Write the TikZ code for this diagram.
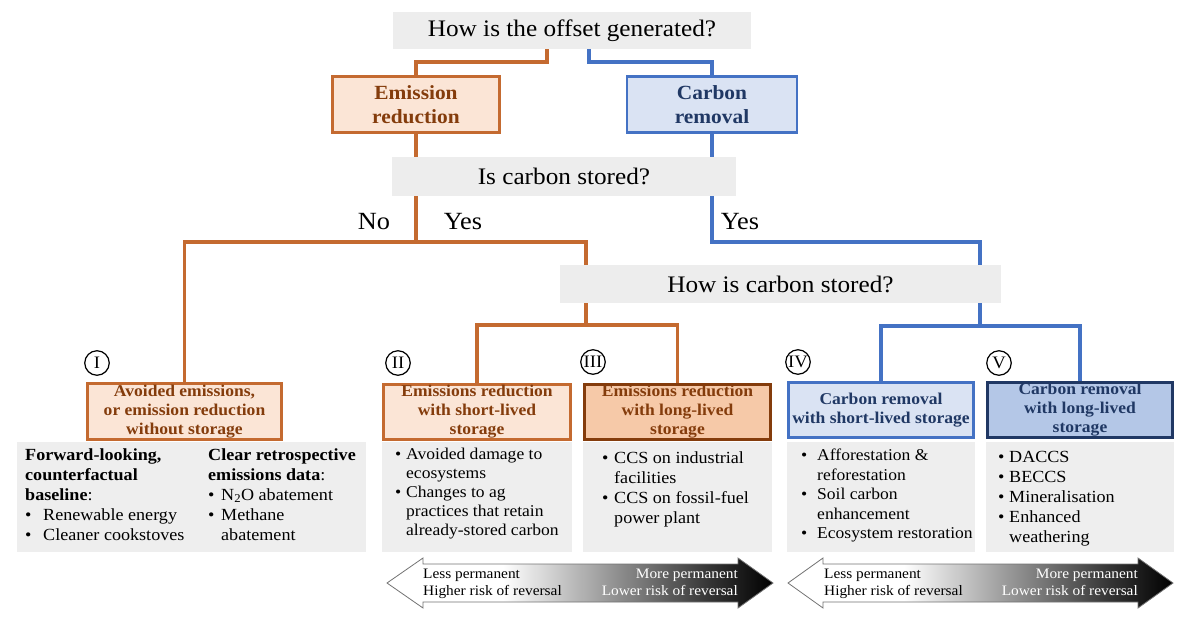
\documentclass[tikz,border=0pt]{standalone}
\usepackage{fontspec}
\setmainfont{Liberation Serif}[FakeStretch=1.065, Scale=1.03]
\usetikzlibrary{calc}
\definecolor{orl}{HTML}{C46A30}
\definecolor{orfill}{HTML}{FBE5D6}
\definecolor{orfillb}{HTML}{F6C9A8}
\definecolor{ctbrown}{HTML}{843C0C}
\definecolor{blueline}{HTML}{4472C4}
\definecolor{bluefill}{HTML}{DAE3F3}
\definecolor{bluefillb}{HTML}{B4C7E7}
\definecolor{ctnavy}{HTML}{203864}
\definecolor{qgray}{HTML}{EDEDED}
\definecolor{dgray}{HTML}{EEEEEE}
\pgfdeclarehorizontalshading{perm}{100bp}{color(0bp)=(white); color(40bp)=(white); color(67bp)=(black!80); color(75bp)=(black); color(100bp)=(black)}
\begin{document}
\begin{tikzpicture}[x=1pt,y=-1pt,
  qbox/.style={fill=qgray, inner sep=0, font=\fontsize{23}{28}\selectfont},
  hbox/.style={line width=2.8pt, inner sep=0, align=center},
  obox/.style={hbox, draw=orl, fill=orfill, text=ctbrown},
  bbox/.style={hbox, draw=blueline, fill=bluefill, text=ctnavy},
  topf/.style={font=\bfseries\fontsize{19.5}{24}\selectfont},
  lowf/.style={font=\bfseries\fontsize{16}{19}\selectfont},
  gbox/.style={fill=dgray, inner sep=0, anchor=north west},
  ol/.style={draw=orl, line width=3.2pt},
  bl/.style={draw=blueline, line width=3.2pt},
  num/.style={circle, draw=black, line width=1.2pt, minimum size=24.5pt, inner sep=0, font=\fontsize{17}{17}\selectfont},
  ans/.style={font=\fontsize{24}{28}\selectfont},
  txt/.style={inner sep=0, anchor=north west},
  atxt/.style={inner sep=0, font=\fontsize{14}{17}\selectfont},
  arrowshape/.style={shading=perm, draw=black!55, line width=0.8pt}
]
\useasboundingbox (0,0) rectangle (1200,619);

% question boxes
\node[qbox, minimum width=358pt, minimum height=37pt] (q1) at (572,30.5) {How is the offset generated?};
\node[qbox, minimum width=344pt, minimum height=39pt] (q2) at (564,176.5) {Is carbon stored?};
\node[qbox, minimum width=441pt, minimum height=38pt] (q3) at (780.5,284) {How is carbon stored?};

% top category boxes
\node[obox, topf, minimum width=167pt, minimum height=56.4pt] (er) at (416,104.5) {Emission\\reduction};
\node[bbox, topf, minimum width=170pt, minimum height=56.4pt] (cr) at (712,104.5) {Carbon\\removal};

% gray detail boxes
\node[gbox, minimum width=349pt, minimum height=110pt] (g1) at (17,442) {};
\node[gbox, minimum width=190pt, minimum height=110pt] (g2) at (382,442) {};
\node[gbox, minimum width=189pt, minimum height=110pt] (g3) at (583,442) {};
\node[gbox, minimum width=188pt, minimum height=110pt] (g4) at (787,442) {};
\node[gbox, minimum width=188pt, minimum height=110pt] (g5) at (986,442) {};

% category boxes
\node[obox, lowf, minimum width=194.4pt, minimum height=56.4pt] (b1) at (184.5,411.5) {Avoided emissions,\\or emission reduction\\without storage};
\node[obox, lowf, minimum width=187.4pt, minimum height=55.4pt] (b2) at (477,412) {Emissions reduction\\with short-lived\\storage};
\node[obox, lowf, draw=ctbrown, fill=orfillb, minimum width=186.4pt, minimum height=55.4pt] (b3) at (677.5,412) {Emissions reduction\\with long-lived\\storage};
\node[bbox, lowf, minimum width=185.4pt, minimum height=55.4pt] (b4) at (881,410) {Carbon removal\\with short-lived storage};
\node[bbox, lowf, draw=ctnavy, fill=bluefillb, minimum width=185.4pt, minimum height=55.4pt] (b5) at (1080,410) {Carbon removal\\with long-lived\\storage};

% numbers
\node[num] (n1) at (97,363) {I};
\node[num] (n2) at (398,363) {II};
\node[num] (n3) at (593,362) {III};
\node[num] (n4) at (798,362) {IV};
\node[num] (n5) at (999,363) {V};

% junction coordinates
\coordinate (k1) at (547,62);
\coordinate (k2) at (589,62);
\coordinate (k3) at (586,242);
\coordinate (k4) at (980,242);
\coordinate (k5) at (586,325);
\coordinate (k6) at (980,326);

% connectors
\draw[ol] (q1.south -| k1) -- (k1) -| (er.north);
\draw[bl] (q1.south -| k2) -- (k2) -| (cr.north);
\draw[ol] (er.south) -- (er.south |- q2.north);
\draw[bl] (cr.south) -- (cr.south |- q2.north);
\draw[ol] (q2.south -| er.south) -- (er.south |- k3);
\draw[ol] (b1.north) |- (k3) -- (q3.north -| k3);
\draw[bl] (q2.south -| cr.south) |- (k4) -- (q3.north -| k4);
\draw[ol] (q3.south -| k5) -- (k5);
\draw[ol] (b2.north) |- (b3.north |- k5) -- (b3.north);
\draw[bl] (q3.south -| k6) -- (k6);
\draw[bl] (b4.north) |- (b5.north |- k6) -- (b5.north);

% answers
\node[ans] (no) at (374,222) {No};
\node[ans] (yes1) at (463,222) {Yes};
\node[ans] (yes2) at (740,222) {Yes};

% detail texts
\node[txt, font=\fontsize{16.5}{20}\selectfont] (t1a) at (25,446) {\begin{tabular}{@{}p{18pt}@{}l@{}}
\multicolumn{2}{@{}l@{}}{\textbf{Forward-looking,}}\\
\multicolumn{2}{@{}l@{}}{\textbf{counterfactual}}\\
\multicolumn{2}{@{}l@{}}{\textbf{baseline}:}\\
\textbullet & Renewable energy\\
\textbullet & Cleaner cookstoves
\end{tabular}};
\node[txt, font=\fontsize{16.5}{20}\selectfont] (t1b) at (208,446) {\begin{tabular}{@{}p{13pt}@{}l@{}}
\multicolumn{2}{@{}l@{}}{\textbf{Clear retrospective}}\\
\multicolumn{2}{@{}l@{}}{\textbf{emissions data}:}\\
\textbullet & N\textsubscript{2}O abatement\\
\textbullet & Methane\\
 & abatement
\end{tabular}};
\node[txt, font=\fontsize{16}{19}\selectfont] (t2) at (395,446) {\begin{tabular}{@{}p{11pt}@{}l@{}}
\textbullet & Avoided damage to\\
 & ecosystems\\
\textbullet & Changes to ag\\
 & practices that retain\\
 & already-stored carbon
\end{tabular}};
\node[txt, font=\fontsize{16.5}{20}\selectfont] (t3) at (602,449) {\begin{tabular}{@{}p{12pt}@{}l@{}}
\textbullet & CCS on industrial\\
 & facilities\\
\textbullet & CCS on fossil-fuel\\
 & power plant
\end{tabular}};
\node[txt, font=\fontsize{16}{19.5}\selectfont] (t4) at (801,447) {\begin{tabular}{@{}p{16pt}@{}l@{}}
\textbullet & Afforestation \&\\
 & reforestation\\
\textbullet & Soil carbon\\
 & enhancement\\
\textbullet & Ecosystem restoration
\end{tabular}};
\node[txt, font=\fontsize{16.5}{20}\selectfont] (t5) at (998,448) {\begin{tabular}{@{}p{11pt}@{}l@{}}
\textbullet & DACCS\\
\textbullet & BECCS\\
\textbullet & Mineralisation\\
\textbullet & Enhanced\\
 & weathering
\end{tabular}};

% permanence arrows
\shadedraw[arrowshape] (387,583) -- (423,558) -- (423,564) -- (738,564) -- (738,558) -- (773,583) -- (738,608) -- (738,602) -- (423,602) -- (423,608) -- cycle;
\shadedraw[arrowshape] (788,583) -- (823,558) -- (823,564) -- (1138,564) -- (1138,558) -- (1173,583) -- (1138,608) -- (1138,602) -- (823,602) -- (823,608) -- cycle;
\node[atxt, anchor=north west] (a1l) at (423,566) {\begin{tabular}{@{}l@{}}Less permanent\\Higher risk of reversal\end{tabular}};
\node[atxt, anchor=north east, text=white] (a1r) at (738,566) {\begin{tabular}{@{}r@{}}More permanent\\Lower risk of reversal\end{tabular}};
\node[atxt, anchor=north west] (a2l) at (824,566) {\begin{tabular}{@{}l@{}}Less permanent\\Higher risk of reversal\end{tabular}};
\node[atxt, anchor=north east, text=white] (a2r) at (1138,566) {\begin{tabular}{@{}r@{}}More permanent\\Lower risk of reversal\end{tabular}};
\end{tikzpicture}
\end{document}
